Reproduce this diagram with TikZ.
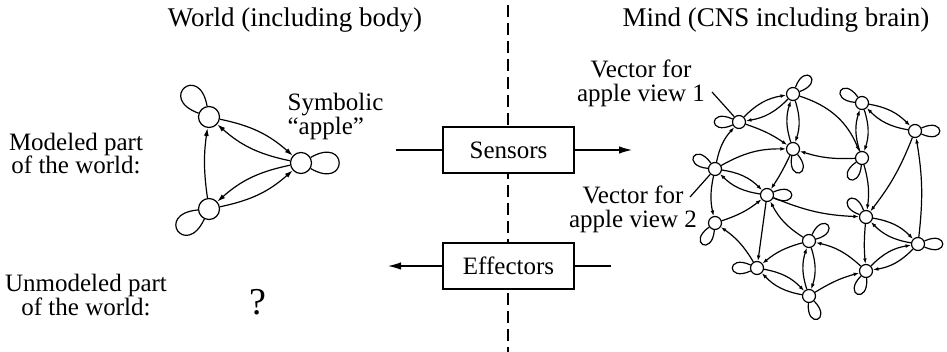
\documentclass[tikz,border=0pt]{standalone}
\usepackage{fontspec}
\setmainfont{Liberation Serif}
\usetikzlibrary{arrows.meta}

\begin{document}
\begin{tikzpicture}[x=1pt,y=-1pt,line width=1.2pt,
  lbl/.style={font=\fontsize{25}{23.5}\selectfont,align=center,inner sep=0pt},
  ttl/.style={font=\fontsize{27}{30}\selectfont,inner sep=0pt},
  bigst/.style={draw,circle,fill=white,minimum size=21pt,inner sep=0pt},
  st/.style={draw,circle,fill=white,minimum size=13pt,inner sep=0pt},
  box/.style={lbl,draw,fill=white,minimum width=131pt,minimum height=46pt},
  bigarc/.style={-{Latex[length=8pt,width=5pt]}},
  arc/.style={-{Latex[length=5.5pt,width=3.8pt]}},
  flow/.style={-{Latex[length=13pt,width=7.5pt]}},
  pair/.style={arc,bend left=18},
  petal/.style={arc,out={#1-25},in={#1+25},min distance=27pt},
  bigpetal/.style={bigarc,out={#1-30},in={#1+30},min distance=44pt}]
\useasboundingbox (0,0) rectangle (947,352);

% world / mind border
\coordinate (top) at (508,5);
\coordinate (bot) at (508,352);
\draw[line width=1.2pt,dash pattern=on 12pt off 6pt] (top) -- (bot);

\node[ttl] (world) at (295,20) {World (including body)};
\node[ttl] (mind) at (776,20) {Mind (CNS including brain)};
\node[lbl] (modeled) at (76,153.5) {Modeled part\\of the world:};
\node[lbl] (unmodeled) at (86,295) {Unmodeled part\\of the world:};
\node[inner sep=0pt,font=\fontsize{38}{40}\selectfont] (unknown) at (258,302) {?};

% modeled world
\node[bigst] (a) at (209,117) {};
\node[bigst] (b) at (301,163) {};
\node[bigst] (c) at (209,209) {};
\node[lbl,align=left,anchor=west] (symb) at (287,116.5) {Symbolic\\``apple''};
\draw[bigarc] (a) to[bend left=15] (b);
\draw[bigarc] (b) to[bend left=15] (a);
\draw[bigarc] (b) to[bend right=15] (c);
\draw[bigarc] (c) to[bend right=15] (b);
\draw[bigarc] (c) to[bend left=8] (a);
\draw (a) to[bigpetal=130] (a);
\draw (b) to[bigpetal=0] (b);
\draw (c) to[bigpetal=215] (c);

% sensors and effectors
\node[box] (sensors) at (508.5,150) {Sensors};
\node[box] (effectors) at (508.5,266) {Effectors};
\coordinate (sin) at (396,150);
\coordinate (sout) at (632,150);
\coordinate (ein) at (611,266);
\coordinate (eout) at (388,266);
\draw (sin) -- (sensors);
\draw[flow] (sensors) -- (sout);
\draw (ein) -- (effectors);
\draw[flow] (effectors) -- (eout);

% mind network
\node[st] (n1) at (793,94) {};
\node[st] (n2) at (739,122) {};
\node[st] (n3) at (793,149) {};
\node[st] (n4) at (715,169) {};
\node[st] (n5) at (767,195) {};
\node[st] (n6) at (862,103) {};
\node[st] (n7) at (915,131) {};
\node[st] (n8) at (862,158) {};
\node[st] (n9) at (715,223) {};
\node[st] (n10) at (809,241) {};
\node[st] (n11) at (757,268) {};
\node[st] (n12) at (809,296) {};
\node[st] (n13) at (866,217) {};
\node[st] (n14) at (918,244) {};
\node[st] (n15) at (866,271) {};

\foreach \u/\v in {n1/n2,n1/n3,n4/n5,n6/n7,n6/n8,n11/n12,n10/n12,n13/n14,n15/n14}{
  \draw[pair] (\u) to (\v);
  \draw[pair] (\v) to (\u);
}
\foreach \u/\a in {n1/45,n2/180,n3/-75,n4/150,n5/0,n6/150,n7/0,n8/-120,
                   n9/-120,n10/40,n11/180,n12/-70,n13/135,n14/0,n15/-110}
  \draw (\u) to[petal=\a] (\u);

\draw[arc] (n1) to[bend left=25] (n8);
\draw[arc] (n2) to[bend left=8] (n3);
\draw[arc] (n4) to[bend left=15] (n2);
\draw[arc] (n4) to[bend left=15] (n3);
\draw[arc] (n8) to[bend left=10] (n3);
\draw[arc] (n3) to[bend left=4] (n5);
\draw[arc] (n7) to[bend left=8] (n13);
\draw[arc] (n14) to[bend right=8] (n7);
\draw[arc] (n8) to[bend left=12] (n13);
\draw[arc] (n4) to[bend right=12] (n9);
\draw[arc] (n9) to[bend right=10] (n5);
\draw[arc] (n10) to[bend left=15] (n5);
\draw[arc] (n5) -- (n11);
\draw[arc] (n5) to[bend right=10] (n13);
\draw[arc] (n11) to[bend right=12] (n9);
\draw[arc] (n10) to[bend right=12] (n11);
\draw[arc] (n12) to[bend left=8] (n15);
\draw[arc] (n15) to[bend right=15] (n10);
\draw[arc] (n13) to[bend right=5] (n15);

% labels for the two views
\node[lbl] (view1) at (641,83.5) {Vector for\\apple view 1};
\node[lbl] (view2) at (633,209.5) {Vector for\\apple view 2};
\coordinate (p1) at (712,92);
\coordinate (p2) at (690,197);
\draw (p1) -- (n2);
\draw (p2) -- (n4);
\end{tikzpicture}
\end{document}
